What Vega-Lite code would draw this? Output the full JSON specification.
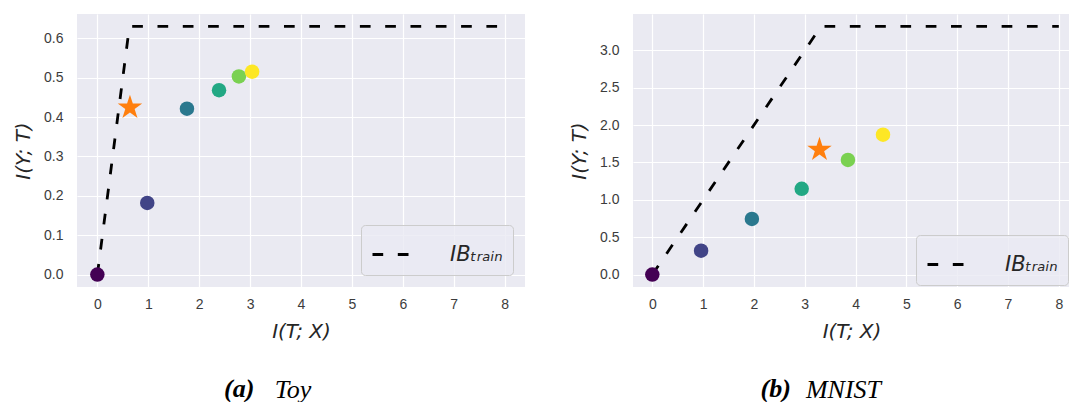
{
  "$schema": "https://vega.github.io/schema/vega-lite/v6.json",
  "background": "white",
  "padding": {"left": 13, "top": 14, "right": 0, "bottom": 0},
  "spacing": 44,
  "datasets": {
    "toy_ib": [
      {"itx": 0, "iyt": 0, "curve": "IBₜᵣₐᵢₙ"},
      {"itx": 0.63, "iyt": 0.63, "curve": "IBₜᵣₐᵢₙ"},
      {"itx": 8, "iyt": 0.63, "curve": "IBₜᵣₐᵢₙ"}
    ],
    "toy_layers": [
      {"layer": 1, "itx": 0, "iyt": 0},
      {"layer": 2, "itx": 0.98, "iyt": 0.182},
      {"layer": 3, "itx": 1.76, "iyt": 0.421},
      {"layer": 4, "itx": 2.39, "iyt": 0.468},
      {"layer": 5, "itx": 2.78, "iyt": 0.503},
      {"layer": 6, "itx": 3.04, "iyt": 0.515}
    ],
    "toy_star": [{"itx": 0.64, "iyt": 0.424}],
    "mnist_ib": [
      {"itx": 0, "iyt": 0, "curve": "IBₜᵣₐᵢₙ"},
      {"itx": 3.32, "iyt": 3.32, "curve": "IBₜᵣₐᵢₙ"},
      {"itx": 8, "iyt": 3.32, "curve": "IBₜᵣₐᵢₙ"}
    ],
    "mnist_layers": [
      {"layer": 1, "itx": 0, "iyt": 0},
      {"layer": 2, "itx": 0.96, "iyt": 0.319},
      {"layer": 3, "itx": 1.96, "iyt": 0.745},
      {"layer": 4, "itx": 2.94, "iyt": 1.148},
      {"layer": 5, "itx": 3.85, "iyt": 1.534},
      {"layer": 6, "itx": 4.54, "iyt": 1.871}
    ],
    "mnist_star": [{"itx": 3.29, "iyt": 1.671}]
  },
  "config": {
    "font": "Liberation Sans",
    "view": {"fill": "#eaeaf2", "stroke": null},
    "axis": {
      "grid": true,
      "gridColor": "white",
      "gridWidth": 1.2,
      "domain": false,
      "ticks": false,
      "labelFont": "Liberation Sans",
      "labelFontSize": 14,
      "labelColor": "#3c3c3c",
      "titleFont": "DejaVu Sans",
      "titleFontStyle": "italic",
      "titleFontWeight": "normal",
      "titleFontSize": 20,
      "titleColor": "#262626"
    },
    "axisX": {"labelPadding": 10, "titlePadding": 10},
    "axisY": {"labelPadding": 14, "titlePadding": 10},
    "legend": {
      "fillColor": "rgba(234,234,242,0.8)",
      "strokeColor": "#cccccc",
      "cornerRadius": 4,
      "padding": 10,
      "labelFont": "DejaVu Sans",
      "labelFontStyle": "italic",
      "labelFontSize": 21,
      "labelColor": "#262626",
      "labelOffset": 40,
      "symbolType": "stroke",
      "symbolStrokeColor": "black",
      "symbolStrokeWidth": 2.8,
      "symbolSize": 1296
    },
    "title": {"color": "black"}
  },
  "resolve": {
    "scale": {"x": "independent", "y": "independent", "color": "independent", "strokeDash": "independent"},
    "legend": {"strokeDash": "independent", "color": "independent"}
  },
  "hconcat": [
    {
      "title": {"text": "(a)", "orient": "bottom", "anchor": "middle", "offset": 0, "dx": -30, "dy": -27,
                "font": "Liberation Serif", "fontStyle": "italic", "fontWeight": "bold", "fontSize": 26},
      "resolve": {
        "scale": {"x": "independent", "y": "independent", "color": "independent", "strokeDash": "independent"},
        "legend": {"strokeDash": "independent", "color": "independent"}
      },
      "vconcat": [
        {
          "width": 448,
          "height": 273,
          "title": {"text": "Toy", "orient": "bottom", "anchor": "middle", "offset": 36, "dx": -8,
                    "font": "Liberation Serif", "fontStyle": "italic", "fontWeight": "normal", "fontSize": 26},
          "layer": [
            {
              "data": {"name": "toy_ib"},
              "mark": {"type": "line", "color": "black", "strokeWidth": 2.8},
              "encoding": {
                "x": {"field": "itx", "type": "quantitative", "scale": {"domain": [-0.4, 8.4], "nice": false, "zero": false},
                      "axis": {"title": "I(T; X)", "values": [0, 1, 2, 3, 4, 5, 6, 7, 8], "format": "d"}},
                "y": {"field": "iyt", "type": "quantitative", "scale": {"domain": [-0.0315, 0.6615], "nice": false, "zero": false},
                      "axis": {"title": "I(Y; T)", "values": [0, 0.1, 0.2, 0.3, 0.4, 0.5, 0.6], "format": ".1f"}},
                "strokeDash": {"field": "curve", "type": "nominal", "scale": {"range": [[10.7, 14.6]]},
                               "legend": {"title": null, "orient": "bottom-right", "offset": 12}}
              }
            },
            {
              "data": {"name": "toy_layers"},
              "mark": {"type": "circle", "size": 210, "opacity": 1},
              "encoding": {
                "x": {"field": "itx", "type": "quantitative"},
                "y": {"field": "iyt", "type": "quantitative"},
                "color": {"field": "layer", "type": "ordinal",
                          "scale": {"range": ["#440154", "#414487", "#2a788e", "#22a884", "#7ad151", "#fde725"]},
                          "legend": null}
              }
            },
            {
              "data": {"name": "toy_star"},
              "mark": {"type": "point", "shape": "M0,-1L0.2245,-0.309L0.9511,-0.309L0.3633,0.118L0.5878,0.809L0,0.382L-0.5878,0.809L-0.3633,0.118L-0.9511,-0.309L-0.2245,-0.309Z",
                       "filled": true, "size": 660, "color": "#ff7f0e", "opacity": 1},
              "encoding": {
                "x": {"field": "itx", "type": "quantitative"},
                "y": {"field": "iyt", "type": "quantitative"}
              }
            }
          ]
        }
      ]
    },
    {
      "title": {"text": "(b)", "orient": "bottom", "anchor": "middle", "offset": 0, "dx": -44, "dy": -27,
                "font": "Liberation Serif", "fontStyle": "italic", "fontWeight": "bold", "fontSize": 26},
      "resolve": {
        "scale": {"x": "independent", "y": "independent", "color": "independent", "strokeDash": "independent"},
        "legend": {"strokeDash": "independent", "color": "independent"}
      },
      "vconcat": [
        {
          "width": 437,
          "height": 273,
          "title": {"text": "MNIST", "orient": "bottom", "anchor": "middle", "offset": 36, "dx": -8,
                    "font": "Liberation Serif", "fontStyle": "italic", "fontWeight": "normal", "fontSize": 26},
          "layer": [
            {
              "data": {"name": "mnist_ib"},
              "mark": {"type": "line", "color": "black", "strokeWidth": 2.8},
              "encoding": {
                "x": {"field": "itx", "type": "quantitative", "scale": {"domain": [-0.38, 8.22], "nice": false, "zero": false},
                      "axis": {"title": "I(T; X)", "values": [0, 1, 2, 3, 4, 5, 6, 7, 8], "format": "d"}},
                "y": {"field": "iyt", "type": "quantitative", "scale": {"domain": [-0.166, 3.486], "nice": false, "zero": false},
                      "axis": {"title": "I(Y; T)", "values": [0, 0.5, 1, 1.5, 2, 2.5, 3], "format": ".1f"}},
                "strokeDash": {"field": "curve", "type": "nominal", "scale": {"range": [[10.7, 14.6]]},
                               "legend": {"title": null, "orient": "bottom-right", "offset": 2}}
              }
            },
            {
              "data": {"name": "mnist_layers"},
              "mark": {"type": "circle", "size": 210, "opacity": 1},
              "encoding": {
                "x": {"field": "itx", "type": "quantitative"},
                "y": {"field": "iyt", "type": "quantitative"},
                "color": {"field": "layer", "type": "ordinal",
                          "scale": {"range": ["#440154", "#414487", "#2a788e", "#22a884", "#7ad151", "#fde725"]},
                          "legend": null}
              }
            },
            {
              "data": {"name": "mnist_star"},
              "mark": {"type": "point", "shape": "M0,-1L0.2245,-0.309L0.9511,-0.309L0.3633,0.118L0.5878,0.809L0,0.382L-0.5878,0.809L-0.3633,0.118L-0.9511,-0.309L-0.2245,-0.309Z",
                       "filled": true, "size": 660, "color": "#ff7f0e", "opacity": 1},
              "encoding": {
                "x": {"field": "itx", "type": "quantitative"},
                "y": {"field": "iyt", "type": "quantitative"}
              }
            }
          ]
        }
      ]
    }
  ]
}
